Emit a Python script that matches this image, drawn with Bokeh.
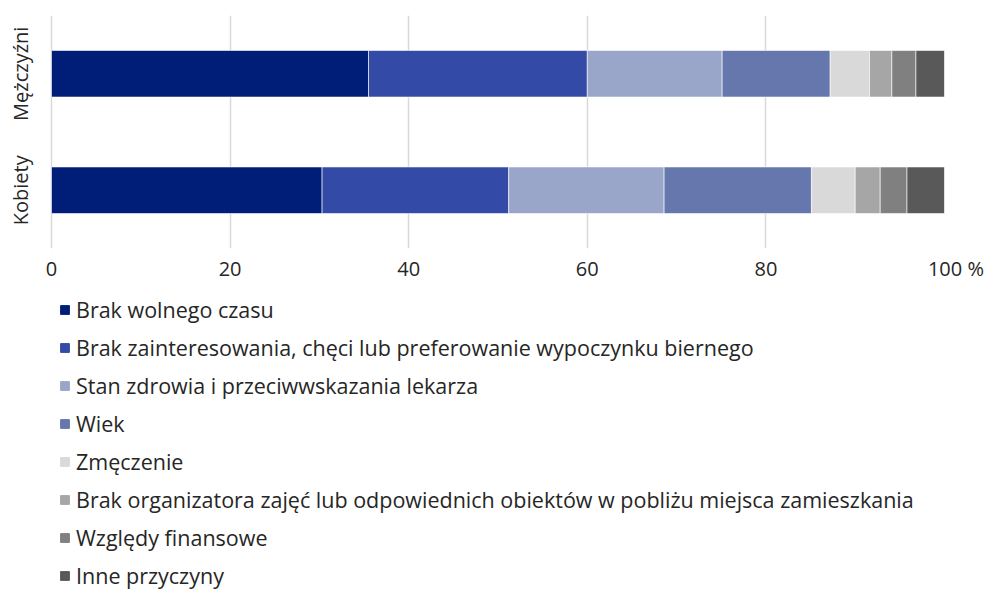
import math
from bokeh.plotting import figure
from bokeh.layouts import column
from bokeh.models import FactorRange, Legend, LegendItem, FixedTicker, ColumnDataSource
from bokeh.core.properties import value
from bokeh.embed import file_html
from bokeh.resources import INLINE

groups = ["Kobiety", "Mężczyźni"]
causes = [
    "Brak wolnego czasu",
    "Brak zainteresowania, chęci lub preferowanie wypoczynku biernego",
    "Stan zdrowia i przeciwwskazania lekarza",
    "Wiek",
    "Zmęczenie",
    "Brak organizatora zajęć lub odpowiednich obiektów w pobliżu miejsca zamieszkania",
    "Względy finansowe",
    "Inne przyczyny",
]
kobiety = [30.3, 20.9, 17.4, 16.5, 4.9, 2.8, 3.0, 4.2]
mezczyzni = [35.5, 24.5, 15.1, 12.1, 4.4, 2.5, 2.7, 3.2]
colors = ["#001E78", "#334BA6", "#99A6C9", "#6677AD", "#D9D9D9", "#A6A6A6", "#808080", "#595959"]
x_ticks = [0, 20, 40, 60, 80, 100]
x_tick_labels = {0: "0", 20: "20", 40: "40", 60: "60", 80: "80", 100: "\u2007\u2007100 %"}

FONT = "Open Sans"
TXT = "#262626"

keys = [f"s{i}" for i in range(len(causes))]
data = {"group": groups}
for i, k in enumerate(keys):
    data[k] = [kobiety[i], mezczyzni[i]]
src = ColumnDataSource(data)

# layout constants (pixels)
LEFT_GUTTER = 51          # space left of the 0 line, holds the category labels
PLOT_W = 893              # 0..100
RIGHT = 46
PX_PER_UNIT = PLOT_W / 100
x_start = -LEFT_GUTTER / PX_PER_UNIT
label_x = x_start + 20 / PX_PER_UNIT

# ---- chart ----
p = figure(
    frame_width=LEFT_GUTTER + PLOT_W, frame_height=233,
    y_range=FactorRange(factors=groups, range_padding=0),
    x_range=(x_start, 100),
    y_axis_location=None,
    output_backend="svg", toolbar_location=None,
    min_border_left=0, min_border_right=RIGHT, min_border_top=15, min_border_bottom=40,
)
p.outline_line_color = None

renderers = p.hbar_stack(keys, y="group", height=0.4, color=colors, source=src,
                         line_color="white", line_width=0.6)

p.text(x=label_x, y="group", text="group", source=src, angle=math.pi / 2,
       text_align="center", text_baseline="middle", text_font=value(FONT),
       text_font_size="20px", text_color=TXT)

p.xaxis.ticker = FixedTicker(ticks=x_ticks)
p.xaxis.major_label_overrides = x_tick_labels
p.xaxis.axis_line_color = None
p.xaxis.major_tick_line_color = None
p.xaxis.minor_tick_line_color = None
p.xaxis.major_tick_out = 0
p.xaxis.major_tick_in = 0
p.xaxis.major_label_standoff = 6
p.xaxis.major_label_text_font = FONT
p.xaxis.major_label_text_font_size = "20px"
p.xaxis.major_label_text_color = TXT

p.xgrid.ticker = FixedTicker(ticks=x_ticks)
p.xgrid.grid_line_color = "#D9D9D9"
p.xgrid.grid_line_width = 1.5
p.ygrid.grid_line_color = None

# ---- legend panel ----
lg = figure(
    frame_width=LEFT_GUTTER + PLOT_W, frame_height=302,
    x_range=(0, 1), y_range=FactorRange(factors=groups),
    x_axis_type=None, y_axis_type=None,
    output_backend="svg", toolbar_location=None,
    min_border_left=0, min_border_right=RIGHT, min_border_top=0, min_border_bottom=0,
)
lg.outline_line_color = None
lg.grid.grid_line_color = None
dummy = lg.hbar_stack(keys, y="group", height=0.4, color=colors, source=src)
for r in dummy:
    r.visible = False

items = [LegendItem(label=c, renderers=[r]) for c, r in zip(causes, dummy)]
legend = Legend(items=items, location=(59, 0), orientation="vertical",
                glyph_width=11, glyph_height=11, label_standoff=6,
                label_text_font=FONT, label_text_font_size="21.5px", label_text_color=TXT,
                label_height=30, spacing=8, padding=0, margin=0,
                inactive_fill_alpha=0,
                border_line_color=None, background_fill_alpha=0)
lg.add_layout(legend)

open("out.html", "w").write(file_html(column(p, lg, spacing=0), INLINE))
